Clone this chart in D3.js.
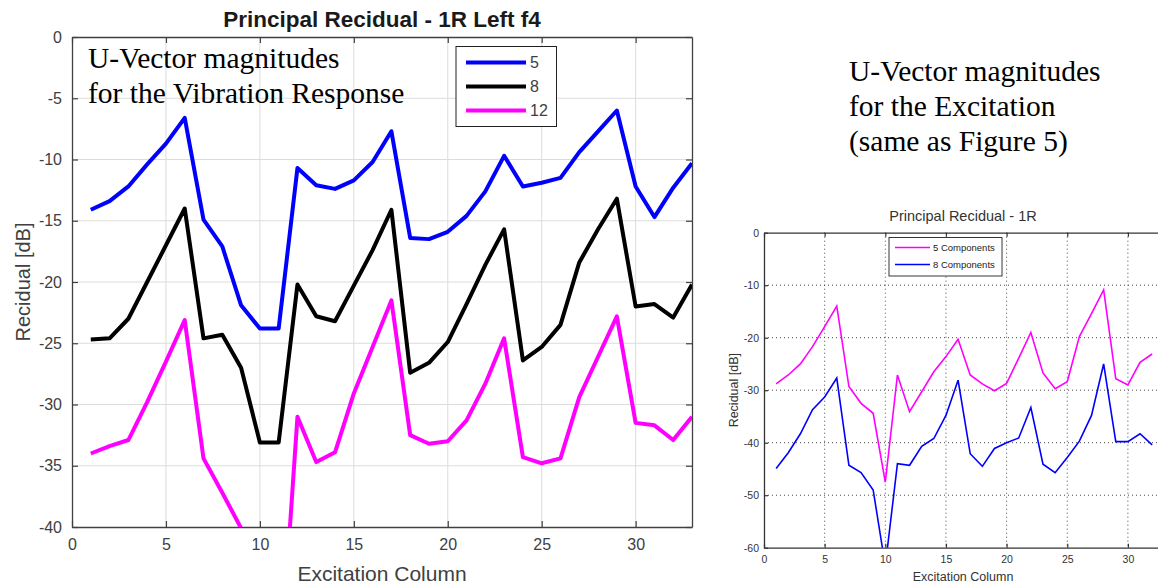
<!DOCTYPE html>
<html>
<head>
<meta charset="utf-8">
<script src="https://cdn.jsdelivr.net/npm/d3@7/dist/d3.min.js"></script>
<style>
  body { margin: 0; background: #fff; }
  svg { display: block; }
</style>
</head>
<body>
<div id="my_dataviz"></div>
<script>
// ---- data ----
// left figure: vibration response, 33 excitation columns
var leftCols = [1,2,3,4,5,6,7,8,9,10,11,12,13,14,15,16,17,18,19,20,21,22,23,24,25,26,27,28,29,30,31,32,33];
var resp5 = [-14.1,-13.4,-12.2,-10.4,-8.7,-6.6,-14.9,-17.1,-21.9,-23.8,-23.8,-10.7,-12.1,-12.4,-11.7,-10.2,-7.7,-16.4,-16.5,-15.9,-14.6,-12.6,-9.7,-12.2,-11.9,-11.5,-9.4,-7.7,-6.0,-12.2,-14.7,-12.3,-10.3];
var resp8 = [-24.7,-24.6,-23.0,-20.0,-17.0,-14.0,-24.6,-24.3,-27.0,-33.1,-33.1,-20.2,-22.8,-23.2,-20.3,-17.4,-14.1,-27.4,-26.6,-24.9,-21.8,-18.6,-15.7,-26.4,-25.3,-23.5,-18.4,-15.7,-13.2,-22.0,-21.8,-22.9,-20.2];
var resp12 = [-34.0,-33.4,-32.9,-29.8,-26.5,-23.1,-34.4,-37.2,-40.1,-48.0,-53.5,-31.0,-34.7,-33.9,-29.1,-25.3,-21.5,-32.5,-33.2,-33.0,-31.3,-28.3,-24.6,-34.3,-34.8,-34.4,-29.4,-26.1,-22.8,-31.5,-31.7,-32.9,-31.0];
var leftNames = ["5", "8", "12"];
var leftXTicks = [0,5,10,15,20,25,30];
var leftYTicks = [0,-5,-10,-15,-20,-25,-30,-35,-40];

// right figure: excitation, 32 columns
var rightCols = [1,2,3,4,5,6,7,8,9,10,11,12,13,14,15,16,17,18,19,20,21,22,23,24,25,26,27,28,29,30,31,32];
var exc5 = [-28.8,-27.1,-25.0,-21.7,-17.9,-14.0,-29.3,-32.5,-34.4,-47.5,-27.1,-34.1,-30.3,-26.5,-23.6,-20.3,-27.1,-28.8,-30.1,-28.7,-23.9,-19.0,-26.7,-29.7,-28.4,-19.8,-15.4,-10.9,-27.8,-29.0,-24.7,-23.1];
var exc8 = [-44.9,-41.9,-38.3,-33.7,-31.3,-27.7,-44.3,-45.7,-49.0,-63.5,-44.0,-44.3,-40.7,-39.2,-34.8,-28.1,-42.1,-44.5,-41.1,-40.0,-39.1,-33.3,-44.1,-45.7,-42.8,-39.7,-34.8,-25.0,-39.8,-39.8,-38.3,-40.4];
var rightNames = ["5 Components", "8 Components"];
var rightXTicks = [0,5,10,15,20,25,30];
var rightYTicks = [0,-10,-20,-30,-40,-50,-60];

// colours
var blueColor = "#0000ff";
var blackColor = "#000000";
var magentaColor = "#ff00ff";
var axisGrey = "#404040";
var sans = "'Liberation Sans', Arial, sans-serif";
var serif = "'Liberation Serif', 'Times New Roman', serif";

// plain hyphen for negatives, like the original
var plainFmt = d => String(d);

const W = 1158, H = 584;
const svg = d3.select("#my_dataviz")
  .append("svg")
  .attr("width", W)
  .attr("height", H);

const defs = svg.append("defs");

// ================= left chart =================
const L = { left: 72, right: 692, top: 37, bottom: 527 };
const xL = d3.scaleLinear().domain([0, 33]).range([L.left, L.right]);
const yL = d3.scaleLinear().domain([-40, 0]).range([L.bottom, L.top]);

defs.append("clipPath").attr("id", "clipL")
  .append("rect")
  .attr("x", L.left).attr("y", L.top)
  .attr("width", L.right - L.left).attr("height", L.bottom - L.top);

const gL = svg.append("g");

// grid
gL.append("g").selectAll("line")
  .data(leftXTicks.slice(1))
  .enter().append("line")
  .attr("x1", d => xL(d)).attr("x2", d => xL(d))
  .attr("y1", L.top).attr("y2", L.bottom)
  .attr("stroke", "#dcdcdc").attr("stroke-width", 1);
gL.append("g").selectAll("line")
  .data(leftYTicks.slice(1, -1))
  .enter().append("line")
  .attr("x1", L.left).attr("x2", L.right)
  .attr("y1", d => yL(d)).attr("y2", d => yL(d))
  .attr("stroke", "#dcdcdc").attr("stroke-width", 1);

// axes (ticks pointing in, box all round)
function styleAxis(g, size, color) {
  g.select(".domain").attr("stroke", color).attr("stroke-width", 1.3);
  g.selectAll(".tick line").attr("stroke", color).attr("stroke-width", 1.2);
  g.selectAll("text").attr("fill", color).style("font-family", sans).style("font-size", size + "px");
}
gL.append("g")
  .attr("transform", `translate(0,${L.bottom})`)
  .call(d3.axisBottom(xL).tickValues(leftXTicks).tickFormat(plainFmt).tickSize(-6).tickPadding(12).tickSizeOuter(0))
  .call(g => styleAxis(g, 16, axisGrey));
gL.append("g")
  .attr("transform", `translate(0,${L.top})`)
  .call(d3.axisTop(xL).tickValues(leftXTicks).tickSize(-6).tickFormat("").tickSizeOuter(0))
  .call(g => styleAxis(g, 16, axisGrey));
gL.append("g")
  .attr("transform", `translate(${L.left},0)`)
  .call(d3.axisLeft(yL).tickValues(leftYTicks).tickFormat(plainFmt).tickSize(-6).tickPadding(10).tickSizeOuter(0))
  .call(g => styleAxis(g, 16, axisGrey));
gL.append("g")
  .attr("transform", `translate(${L.right},0)`)
  .call(d3.axisRight(yL).tickValues(leftYTicks).tickSize(-6).tickFormat("").tickSizeOuter(0))
  .call(g => styleAxis(g, 16, axisGrey));

// series lines
const lineL = d3.line().x((d, i) => xL(leftCols[i])).y(d => yL(d));
var leftSeries = [
  { name: leftNames[0], vals: resp5, color: blueColor },
  { name: leftNames[1], vals: resp8, color: blackColor },
  { name: leftNames[2], vals: resp12, color: magentaColor }
];
gL.append("g").attr("clip-path", "url(#clipL)")
  .selectAll("path")
  .data(leftSeries)
  .enter().append("path")
  .attr("d", d => lineL(d.vals))
  .attr("fill", "none")
  .attr("stroke", d => d.color)
  .attr("stroke-width", 4)
  .attr("stroke-linejoin", "round");

// title and labels
svg.append("text")
  .attr("x", 382).attr("y", 27)
  .attr("text-anchor", "middle")
  .style("font-family", sans).style("font-size", "22.5px").style("font-weight", "bold")
  .attr("fill", "#1a1a1a")
  .text("Principal Recidual - 1R Left f4");
svg.append("text")
  .attr("x", 382).attr("y", 581)
  .attr("text-anchor", "middle")
  .style("font-family", sans).style("font-size", "21px")
  .attr("fill", axisGrey)
  .text("Excitation Column");
svg.append("text")
  .attr("transform", `translate(30,${(L.top + L.bottom) / 2}) rotate(-90)`)
  .attr("text-anchor", "middle")
  .style("font-family", sans).style("font-size", "20px")
  .attr("fill", axisGrey)
  .text("Recidual [dB]");

// legend
const legL = svg.append("g");
legL.append("rect")
  .attr("x", 456).attr("y", 46.5).attr("width", 100.5).attr("height", 80)
  .attr("fill", "#fff").attr("stroke", "#222").attr("stroke-width", 1);
legL.selectAll("g.item")
  .data(leftSeries)
  .enter().append("g")
  .each(function (d, i) {
    var yy = 62.5 + i * 24;
    d3.select(this).append("line")
      .attr("x1", 466).attr("x2", 526).attr("y1", yy).attr("y2", yy)
      .attr("stroke", d.color).attr("stroke-width", 4);
    d3.select(this).append("text")
      .attr("x", 530).attr("y", yy).attr("dy", "0.36em")
      .style("font-family", sans).style("font-size", "16px")
      .attr("fill", axisGrey)
      .text(d.name);
  });

// annotation
var noteL = ["U-Vector magnitudes", "for the Vibration Response"];
svg.append("g").selectAll("text")
  .data(noteL)
  .enter().append("text")
  .attr("x", 88).attr("y", (d, i) => 68 + i * 35)
  .style("font-family", serif).style("font-size", "29.5px")
  .attr("fill", "#000")
  .text(d => d);

// ================= right chart =================
const R = { left: 764, top: 232.7, bottom: 547.7 };
const xR = d3.scaleLinear().domain([0, 33]).range([R.left, R.left + 33 * 12.13]);
const yR = d3.scaleLinear().domain([-60, 0]).range([R.bottom, R.top]);

defs.append("clipPath").attr("id", "clipR")
  .append("rect")
  .attr("x", R.left).attr("y", R.top)
  .attr("width", W - R.left).attr("height", R.bottom - R.top);

const gR = svg.append("g");

// dotted grid
gR.append("g").selectAll("line")
  .data(rightXTicks.slice(1))
  .enter().append("line")
  .attr("x1", d => xR(d)).attr("x2", d => xR(d))
  .attr("y1", R.top).attr("y2", R.bottom)
  .attr("stroke", "#333").attr("stroke-width", 0.9)
  .attr("stroke-dasharray", "1,3");
gR.append("g").selectAll("line")
  .data(rightYTicks.slice(1, -1))
  .enter().append("line")
  .attr("x1", R.left).attr("x2", W)
  .attr("y1", d => yR(d)).attr("y2", d => yR(d))
  .attr("stroke", "#333").attr("stroke-width", 0.9)
  .attr("stroke-dasharray", "1,3");

gR.append("g")
  .attr("transform", `translate(0,${R.bottom})`)
  .call(d3.axisBottom(xR).tickValues(rightXTicks).tickFormat(plainFmt).tickSize(-4).tickPadding(8).tickSizeOuter(0))
  .call(g => styleAxis(g, 10.5, "#333"));
gR.append("g")
  .attr("transform", `translate(0,${R.top})`)
  .call(d3.axisTop(xR).tickValues(rightXTicks).tickSize(-4).tickFormat("").tickSizeOuter(0))
  .call(g => styleAxis(g, 10.5, "#333"));
gR.append("g")
  .attr("transform", `translate(${R.left},0)`)
  .call(d3.axisLeft(yR).tickValues(rightYTicks).tickFormat(plainFmt).tickSize(-4).tickPadding(5).tickSizeOuter(0))
  .call(g => styleAxis(g, 10.5, "#333"));

const lineR = d3.line().x((d, i) => xR(rightCols[i])).y(d => yR(d));
var rightSeries = [
  { name: rightNames[0], vals: exc5, color: magentaColor },
  { name: rightNames[1], vals: exc8, color: blueColor }
];
gR.append("g").attr("clip-path", "url(#clipR)")
  .selectAll("path")
  .data(rightSeries)
  .enter().append("path")
  .attr("d", d => lineR(d.vals))
  .attr("fill", "none")
  .attr("stroke", d => d.color)
  .attr("stroke-width", 1.6);

svg.append("text")
  .attr("x", 963).attr("y", 221)
  .attr("text-anchor", "middle")
  .style("font-family", sans).style("font-size", "14.5px")
  .attr("fill", "#333")
  .text("Principal Recidual - 1R");
svg.append("text")
  .attr("x", 963).attr("y", 581)
  .attr("text-anchor", "middle")
  .style("font-family", sans).style("font-size", "12.5px")
  .attr("fill", "#333")
  .text("Excitation Column");
svg.append("text")
  .attr("transform", `translate(738,${(R.top + R.bottom) / 2}) rotate(-90)`)
  .attr("text-anchor", "middle")
  .style("font-family", sans).style("font-size", "12.5px")
  .attr("fill", "#333")
  .text("Recidual [dB]");

// legend
const legR = svg.append("g");
legR.append("rect")
  .attr("x", 889).attr("y", 237.5).attr("width", 113).attr("height", 38.5)
  .attr("fill", "#fff").attr("stroke", "#222").attr("stroke-width", 0.9);
legR.selectAll("g.item")
  .data(rightSeries)
  .enter().append("g")
  .each(function (d, i) {
    var yy = 247.5 + i * 17;
    d3.select(this).append("line")
      .attr("x1", 895).attr("x2", 930).attr("y1", yy).attr("y2", yy)
      .attr("stroke", d.color).attr("stroke-width", 1.6);
    d3.select(this).append("text")
      .attr("x", 933).attr("y", yy).attr("dy", "0.36em")
      .style("font-family", sans).style("font-size", "9.5px")
      .attr("fill", "#222")
      .text(d.name);
  });

var noteR = ["U-Vector magnitudes", "for the Excitation", "(same as Figure 5)"];
svg.append("g").selectAll("text")
  .data(noteR)
  .enter().append("text")
  .attr("x", 849).attr("y", (d, i) => 81 + i * 35)
  .style("font-family", serif).style("font-size", "29.5px")
  .attr("fill", "#000")
  .text(d => d);
</script>
</body>
</html>
